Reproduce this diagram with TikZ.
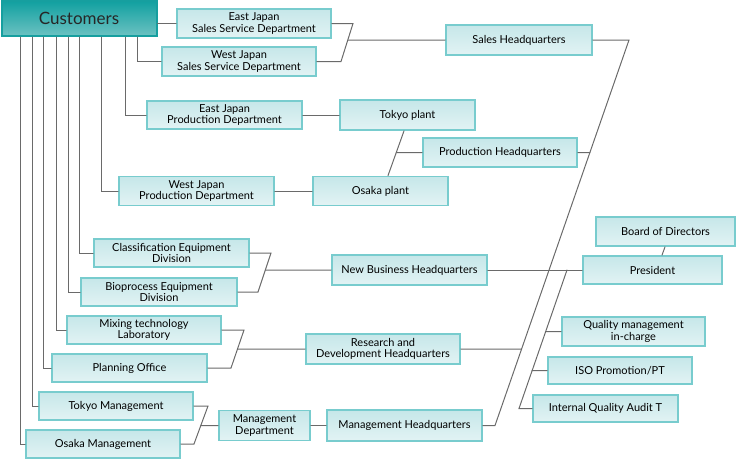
\documentclass[tikz,border=0pt]{standalone}
\usepackage{fontspec}
\setmainfont{Lato}
\usepackage{tikz}

\definecolor{unitline}{HTML}{78CCCE}
\definecolor{unittop}{HTML}{C6E7E9}
\definecolor{unitbot}{HTML}{E2F3F4}
\definecolor{custline}{HTML}{169F9F}
\definecolor{custtop}{HTML}{11A0A0}
\definecolor{custbot}{HTML}{6CC2C2}
\definecolor{linkgray}{HTML}{6A6A6A}

\tikzset{
  unit/.style={draw=unitline, line width=1.8pt, top color=unittop, bottom color=unitbot,
    align=center, inner sep=0pt, font=\fontsize{11}{11.5}\selectfont},
  custbox/.style={draw=custline, line width=2pt, top color=custtop, bottom color=custbot,
    inner sep=0pt, font=\fontsize{17}{18}\selectfont, text=black!85},
  link/.style={draw=linkgray, line width=1pt}
}

\begin{document}
\begin{tikzpicture}[x=1pt,y=-1pt,line cap=round]

  \useasboundingbox (0,0) rectangle (739,459);

  % customers and sales
  \node [custbox, minimum width=155pt, minimum height=35pt] (cust) at (79,18.5) {Customers};
  \node [unit, minimum width=154pt, minimum height=29pt] (ejsales) at (254,23.5) {East Japan\\Sales Service Department};
  \node [unit, minimum width=154pt, minimum height=29pt] (wjsales) at (239,61.5) {West Japan\\Sales Service Department};
  \node [unit, minimum width=146pt, minimum height=30pt] (saleshq) at (519,40) {Sales Headquarters};

  % production
  \node [unit, minimum width=155pt, minimum height=28pt] (ejprod) at (224.5,115) {East Japan\\Production Department};
  \node [unit, minimum width=135pt, minimum height=30pt] (tokyoplant) at (407.5,115) {Tokyo plant};
  \node [unit, minimum width=154pt, minimum height=29pt] (prodhq) at (500,152.5) {Production Headquarters};
  \node [unit, minimum width=155pt, minimum height=29pt] (wjprod) at (196.5,191) {West Japan\\Production Department};
  \node [unit, minimum width=135pt, minimum height=29pt] (osakaplant) at (380.5,191) {Osaka plant};

  % new business, R&D
  \node [unit, minimum width=155pt, minimum height=28pt] (classif) at (171.5,253) {Classification Equipment\\Division};
  \node [unit, minimum width=156pt, minimum height=28pt] (bioproc) at (159,292) {Bioprocess Equipment\\Division};
  \node [unit, minimum width=155pt, minimum height=30pt] (newbiz) at (409.5,270) {New Business Headquarters};
  \node [unit, minimum width=154pt, minimum height=28pt] (mixing) at (144,330) {Mixing technology\\Laboratory};
  \node [unit, minimum width=155pt, minimum height=28pt] (planning) at (129.5,368) {Planning Office};
  \node [unit, minimum width=154pt, minimum height=30pt] (rdhq) at (383,349) {Research and\\Development Headquarters};

  % management
  \node [unit, minimum width=154pt, minimum height=28pt] (tokyomgmt) at (116,406) {Tokyo Management};
  \node [unit, minimum width=154pt, minimum height=28pt] (osakamgmt) at (103,444) {Osaka Management};
  \node [unit, minimum width=91pt, minimum height=30pt] (mgmtdept) at (264.5,425.5) {Management\\Department};
  \node [unit, minimum width=155pt, minimum height=31pt] (mgmthq) at (404.5,425.5) {Management Headquarters};

  % top
  \node [unit, minimum width=139pt, minimum height=29pt] (board) at (665.5,231.5) {Board of Directors};
  \node [unit, minimum width=139pt, minimum height=28pt] (president) at (652.5,270) {President};
  \node [unit, minimum width=143pt, minimum height=29pt] (quality) at (633.5,331.5) {Quality management\\in-charge};
  \node [unit, minimum width=144pt, minimum height=27pt] (iso) at (620,370.5) {ISO Promotion/PT};
  \node [unit, minimum width=145pt, minimum height=27pt] (audit) at (605.5,408.5) {Internal Quality Audit T};

  % customers to sections
  \draw [link] (cust.east |- ejsales.west) -- (ejsales.west);
  \draw [link] ([xshift=58pt]cust.south) |- (wjsales.west);
  \draw [link] ([xshift=46pt]cust.south) |- (ejprod.west);
  \draw [link] ([xshift=22pt]cust.south) |- (wjprod.west);
  \draw [link] ([xshift=0pt]cust.south) |- (classif.west);
  \draw [link] ([xshift=-11pt]cust.south) |- (bioproc.west);
  \draw [link] ([xshift=-23pt]cust.south) |- (mixing.west);
  \draw [link] ([xshift=-36pt]cust.south) |- (planning.west);
  \draw [link] ([xshift=-47pt]cust.south) |- (tokyomgmt.west);
  \draw [link] ([xshift=-59pt]cust.south) |- (osakamgmt.west);

  % sales bracket
  \coordinate (sa) at (353,23.5);
  \coordinate (sb) at (341,61.5);
  \draw [link] (ejsales.east) -- (sa) -- (sb) -- (wjsales.east);
  \draw [link] (intersection of sa--sb and saleshq.west--saleshq.east) -- (saleshq.west);

  % production
  \draw [link] (ejprod.east) -- (tokyoplant.west);
  \draw [link] (wjprod.east) -- (osakaplant.west);
  \draw [link] ([xshift=-3.5pt]tokyoplant.south) coordinate (pa) -- ([xshift=7.5pt]osakaplant.north) coordinate (pb);
  \draw [link] (intersection of pa--pb and prodhq.west--prodhq.east) -- (prodhq.west);

  % new business bracket
  \coordinate (na) at (271,253);
  \coordinate (nb) at (258,292);
  \draw [link] (classif.east) -- (na) -- (nb) -- (bioproc.east);
  \draw [link] (intersection of na--nb and newbiz.west--newbiz.east) -- (newbiz.west);

  % R&D bracket
  \coordinate (ra) at (244,330);
  \coordinate (rb) at (231,368);
  \draw [link] (mixing.east) -- (ra) -- (rb) -- (planning.east);
  \draw [link] (intersection of ra--rb and rdhq.west--rdhq.east) -- (rdhq.west);

  % management bracket
  \coordinate (ga) at (208,406);
  \coordinate (gb) at (194,444);
  \draw [link] (tokyomgmt.east) -- (ga) -- (gb) -- (osakamgmt.east);
  \draw [link] (intersection of ga--gb and mgmtdept.west--mgmtdept.east) -- (mgmtdept.west);
  \draw [link] (mgmtdept.east) -- (mgmthq.west);

  % headquarters line
  \coordinate (ma) at (629,40);
  \coordinate (mb) at (495,425.5);
  \draw [link] (saleshq.east) -- (ma) -- (mb) -- (mgmthq.east);
  \draw [link] (prodhq.east) -- (intersection of ma--mb and prodhq.west--prodhq.east);
  \draw [link] (rdhq.east) -- (intersection of ma--mb and rdhq.west--rdhq.east);
  \draw [link] (newbiz.east) -- (president.west);

  % president
  \draw [link] ([xshift=-0.5pt]board.south) -- ([xshift=9.5pt]president.north);
  \coordinate (qa) at (567,270);
  \coordinate (qb) at (519,408.5);
  \draw [link] (qa) -- (qb) -- (audit.west);
  \draw [link] (intersection of qa--qb and quality.west--quality.east) -- (quality.west);
  \draw [link] (intersection of qa--qb and iso.west--iso.east) -- (iso.west);

\end{tikzpicture}
\end{document}
